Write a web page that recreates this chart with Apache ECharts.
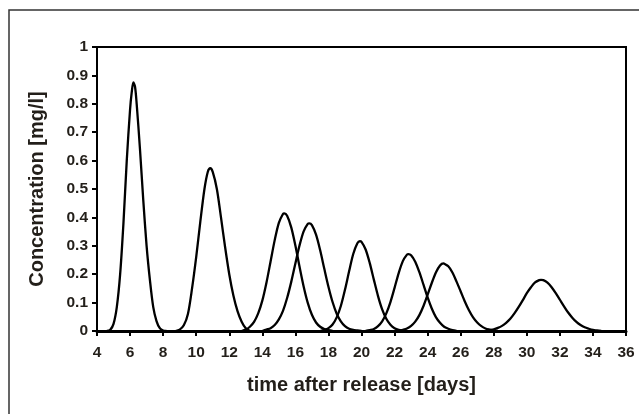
<!DOCTYPE html>
<html>
<head>
<meta charset="utf-8">
<script src="https://cdn.jsdelivr.net/npm/echarts@6/dist/echarts.min.js"></script>
<style>
html,body{margin:0;padding:0;background:#fff;}
#chart{width:639px;height:414px;}
</style>
</head>
<body>
<div id="chart"></div>
<script>
// x values (days) and concentrations (mg/l), one pair list per peak
const peak1 = [[4.6,0],[4.8,0.004],[5.0,0.025],[5.2,0.085],[5.4,0.2],[5.6,0.38],[5.8,0.6],[6.0,0.78],[6.1,0.84],[6.2,0.875],[6.3,0.86],[6.4,0.8],[6.6,0.64],[6.8,0.46],[7.0,0.3],[7.2,0.18],[7.4,0.085],[7.6,0.035],[7.8,0.01],[8.0,0.002],[8.2,0]];
const peak2 = [[8.75,0],[9.0,0.005],[9.25,0.02],[9.5,0.06],[9.75,0.15],[10.0,0.26],[10.25,0.385],[10.5,0.5],[10.7,0.56],[10.85,0.573],[11.0,0.56],[11.25,0.5],[11.5,0.4],[11.75,0.295],[12.0,0.2],[12.25,0.125],[12.5,0.07],[12.75,0.033],[13.0,0.01],[13.25,0]];
const peak3 = [[12.75,0],[13.0,0.005],[13.25,0.015],[13.5,0.032],[13.75,0.062],[14.0,0.107],[14.25,0.17],[14.5,0.245],[14.75,0.32],[15.0,0.381],[15.25,0.412],[15.33,0.414],[15.5,0.406],[15.75,0.365],[16.0,0.301],[16.25,0.227],[16.5,0.157],[16.75,0.099],[17.0,0.057],[17.25,0.03],[17.5,0.015],[17.75,0.007],[18.0,0.003],[18.25,0]];
const peak4 = [[14.0,0],[14.25,0.005],[14.5,0.01],[14.75,0.021],[15.0,0.041],[15.25,0.071],[15.5,0.116],[15.75,0.173],[16.0,0.238],[16.25,0.301],[16.5,0.351],[16.75,0.377],[16.84,0.379],[17.0,0.373],[17.25,0.339],[17.5,0.284],[17.75,0.219],[18.0,0.156],[18.25,0.102],[18.5,0.061],[18.75,0.034],[19.0,0.017],[19.25,0.008],[19.5,0.004],[19.75,0.002],[20.0,0]];
const peak5 = [[17.5,0],[17.75,0.004],[18.0,0.01],[18.25,0.023],[18.5,0.048],[18.75,0.088],[19.0,0.145],[19.25,0.21],[19.5,0.271],[19.75,0.309],[19.9,0.316],[20.0,0.314],[20.25,0.287],[20.5,0.239],[20.75,0.18],[21.0,0.123],[21.25,0.076],[21.5,0.043],[21.75,0.022],[22.0,0.01],[22.25,0.004],[22.5,0.002],[22.75,0]];
const peak6 = [[20.25,0],[20.5,0.003],[20.75,0.007],[21.0,0.017],[21.25,0.034],[21.5,0.062],[21.75,0.102],[22.0,0.152],[22.25,0.204],[22.5,0.246],[22.75,0.269],[22.84,0.271],[23.0,0.267],[23.25,0.244],[23.5,0.207],[23.75,0.163],[24.0,0.118],[24.25,0.079],[24.5,0.049],[24.75,0.029],[25.0,0.015],[25.25,0.008],[25.5,0.003],[25.75,0]];
const peak7 = [[22.25,0],[22.5,0.004],[22.75,0.009],[23.0,0.018],[23.25,0.033],[23.5,0.056],[23.75,0.088],[24.0,0.128],[24.25,0.169],[24.5,0.206],[24.75,0.231],[24.96,0.238],[25.0,0.238],[25.25,0.228],[25.5,0.206],[25.75,0.174],[26.0,0.139],[26.25,0.104],[26.5,0.073],[26.75,0.048],[27.0,0.03],[27.25,0.017],[27.5,0.009],[27.75,0.005],[28.0,0.002],[28.25,0]];
const peak8 = [[27.5,0],[27.75,0.003],[28.0,0.006],[28.25,0.011],[28.5,0.018],[28.75,0.029],[29.0,0.043],[29.25,0.062],[29.5,0.084],[29.75,0.108],[30.0,0.133],[30.25,0.154],[30.5,0.171],[30.75,0.179],[30.86,0.18],[31.0,0.179],[31.25,0.17],[31.5,0.154],[31.75,0.133],[32.0,0.11],[32.25,0.087],[32.5,0.065],[32.75,0.047],[33.0,0.032],[33.25,0.021],[33.5,0.013],[33.75,0.008],[34.0,0.004],[34.25,0.002],[34.5,0]];
const peaks = [peak1, peak2, peak3, peak4, peak5, peak6, peak7, peak8];

const xTitle = 'time after release [days]';
const yTitle = 'Concentration [mg/l]';
const xRange = [4, 36, 2];
const yRange = [0, 1, 0.1];

const txt = '#231f1a';
const font = '"Liberation Sans", Arial, Helvetica, sans-serif';

const chart = echarts.init(document.getElementById('chart'), null, {renderer: 'canvas'});
chart.setOption({
  animation: false,
  backgroundColor: '#fff',
  graphic: [{
    type: 'rect',
    shape: {x: 9, y: 10, width: 700, height: 500},
    style: {fill: 'none', stroke: '#333', lineWidth: 1.5},
    silent: true
  }],
  grid: {left: 97, right: 13, top: 47, bottom: 83, show: true, borderColor: '#000', borderWidth: 2, backgroundColor: 'transparent'},
  xAxis: {
    type: 'value', min: xRange[0], max: xRange[1], interval: xRange[2],
    name: xTitle, nameLocation: 'middle', nameGap: 44,
    nameTextStyle: {fontFamily: font, fontWeight: 'bold', fontSize: 20, color: txt},
    axisLine: {show: true, onZero: false, lineStyle: {color: '#000', width: 3}},
    axisTick: {show: true, length: 5, lineStyle: {color: '#000', width: 2}},
    axisLabel: {margin: 14, fontFamily: font, fontWeight: 'bold', fontSize: 15.5, color: txt},
    splitLine: {show: false}
  },
  yAxis: {
    type: 'value', min: yRange[0], max: yRange[1], interval: yRange[2],
    name: yTitle, nameLocation: 'middle', nameGap: 50, nameRotate: 90,
    nameTextStyle: {fontFamily: font, fontWeight: 'bold', fontSize: 20, color: txt},
    axisLine: {show: true, lineStyle: {color: '#000', width: 2}},
    axisTick: {show: true, length: 5, lineStyle: {color: '#000', width: 2}},
    axisLabel: {margin: 9, fontFamily: font, fontWeight: 'bold', fontSize: 15.5, color: txt,
      formatter: v => String(Math.round(v * 10) / 10)},
    splitLine: {show: false}
  },
  series: peaks.map(p => ({
    type: 'line', data: p, smooth: 0.3, showSymbol: false, symbol: 'none',
    lineStyle: {color: '#000', width: 2.3}, z: 3
  }))
});
</script>
</body>
</html>
